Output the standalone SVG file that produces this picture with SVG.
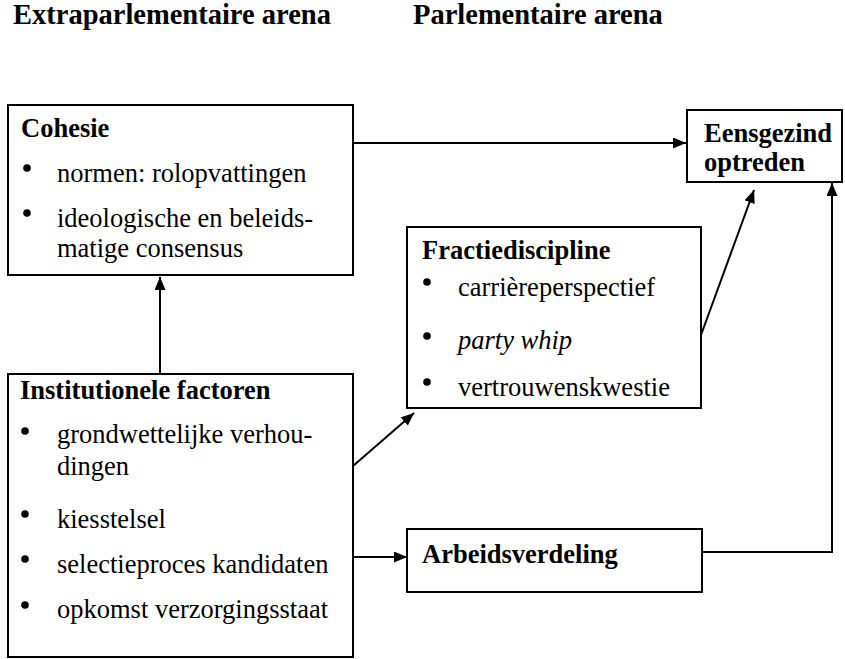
<svg xmlns="http://www.w3.org/2000/svg" width="845" height="659" viewBox="0 0 845 659">
<defs>
<style>
.box{fill:#fff;stroke:#000;stroke-width:2}
.line{fill:none;stroke:#000;stroke-width:2}
.t{font-family:"Liberation Serif","Times New Roman",serif;font-size:26.5px;fill:#000}
.b{font-weight:bold}
.h{font-family:"Liberation Serif","Times New Roman",serif;font-size:28.5px;font-weight:bold;fill:#000}
.dot{fill:#000}
</style>
<marker id="arr" markerUnits="userSpaceOnUse" markerWidth="14" markerHeight="12" refX="13" refY="5.5" orient="auto">
<path d="M0,0 L13,5.5 L0,11 z" fill="#000"/>
</marker>
</defs>
<rect width="845" height="659" fill="#fff"/>
<text class="h" x="13" y="24">Extraparlementaire arena</text>
<text class="h" x="413" y="24">Parlementaire arena</text>

<g id="connectors">
<line class="line" x1="353" y1="143" x2="686" y2="143" marker-end="url(#arr)"/>
<line class="line" x1="160" y1="374" x2="160" y2="277" marker-end="url(#arr)"/>
<line class="line" x1="353" y1="466" x2="414" y2="413" marker-end="url(#arr)"/>
<line class="line" x1="701" y1="335" x2="754" y2="190" marker-end="url(#arr)"/>
<line class="line" x1="353" y1="557" x2="407" y2="557" marker-end="url(#arr)"/>
<polyline class="line" points="702,552 832,552 832,183" marker-end="url(#arr)"/>
</g>

<g id="cohesie">
<rect class="box" x="8" y="105" width="345" height="170"/>
<text class="t b" x="21" y="137">Cohesie</text>
<circle class="dot" cx="27" cy="168" r="3.8"/>
<text class="t" x="57" y="182">normen: rolopvattingen</text>
<circle class="dot" cx="27" cy="213" r="3.8"/>
<text class="t" x="57" y="227">ideologische en beleids-</text>
<text class="t" x="57" y="257">matige consensus</text>
</g>

<g id="eensgezind">
<rect class="box" x="687" y="110" width="155" height="72"/>
<text class="t b" x="704" y="142">Eensgezind</text>
<text class="t b" x="704" y="171">optreden</text>
</g>

<g id="fractiediscipline">
<rect class="box" x="407" y="227" width="294" height="181"/>
<text class="t b" x="422" y="259">Fractiediscipline</text>
<circle class="dot" cx="427" cy="282" r="3.8"/>
<text class="t" x="458" y="296">carrièreperspectief</text>
<circle class="dot" cx="427" cy="336" r="3.8"/>
<text class="t" x="458" y="349" font-style="italic">party whip</text>
<circle class="dot" cx="427" cy="382" r="3.8"/>
<text class="t" x="458" y="396">vertrouwenskwestie</text>
</g>

<g id="institutionele">
<rect class="box" x="8" y="374" width="345" height="283"/>
<text class="t b" x="20" y="399">Institutionele factoren</text>
<circle class="dot" cx="25" cy="431" r="3.8"/>
<text class="t" x="57" y="443">grondwettelijke verhou-</text>
<text class="t" x="57" y="475">dingen</text>
<circle class="dot" cx="25" cy="514" r="3.8"/>
<text class="t" x="57" y="528">kiesstelsel</text>
<circle class="dot" cx="25" cy="559" r="3.8"/>
<text class="t" x="57" y="573">selectieproces kandidaten</text>
<circle class="dot" cx="25" cy="605" r="3.8"/>
<text class="t" x="57" y="618">opkomst verzorgingsstaat</text>
</g>

<g id="arbeidsverdeling">
<rect class="box" x="407" y="529" width="295" height="63"/>
<text class="t b" x="422" y="563">Arbeidsverdeling</text>
</g>
</svg>
